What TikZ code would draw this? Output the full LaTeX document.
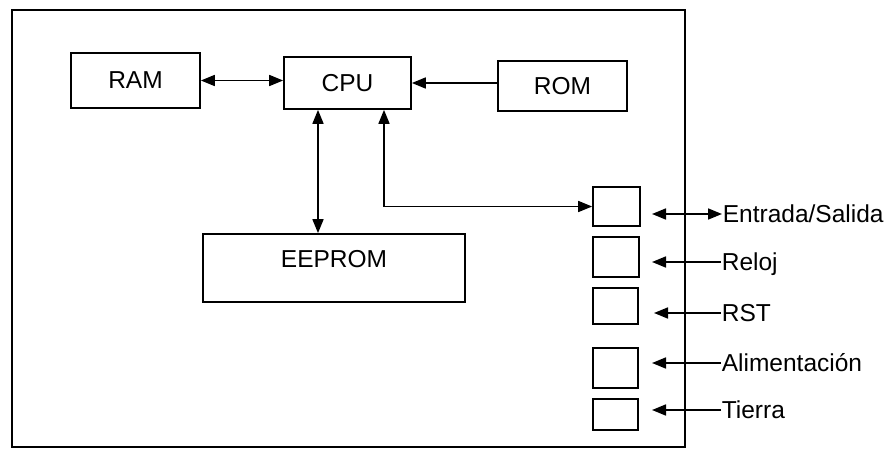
\documentclass[tikz,border=0pt]{standalone}
\usepackage{fontspec}
\setmainfont{Liberation Sans}
\usetikzlibrary{arrows.meta}
\begin{document}
\begin{tikzpicture}[x=1pt,y=-1pt,line width=1.7pt,
  txt/.style={font=\fontsize{24.5}{28}\selectfont},
  box/.style={draw,line width=1.7pt,inner sep=0pt,txt},
  lbl/.style={txt,inner sep=0pt,anchor=base west},
  tip/.tip={Triangle[length=14pt,width=11pt]},
  arr/.style={-tip},
  darr/.style={tip-tip}]
\useasboundingbox (0,0) rectangle (886,455);
% chip outline
\node[box,line width=1.5pt,minimum width=673pt,minimum height=437pt] (chip) at (348.5,228.5) {};
% blocks
\node[box,minimum width=129pt,minimum height=55pt] (ram) at (135.5,80.5) {RAM};
\node[box,minimum width=127pt,minimum height=52pt] (cpu) at (347.5,83) {CPU};
\node[box,minimum width=129pt,minimum height=50pt] (rom) at (562.5,86) {ROM};
\node[box,minimum width=262pt,minimum height=68pt,
      label={[txt,anchor=north,yshift=-13pt]north:EEPROM}] (eeprom) at (334,268) {};
% pins
\node[box,minimum width=47pt,minimum height=39pt] (p1) at (616.5,206.5) {};
\node[box,minimum width=46pt,minimum height=40pt] (p2) at (616,257) {};
\node[box,minimum width=45pt,minimum height=36pt] (p3) at (615.5,306) {};
\node[box,minimum width=45pt,minimum height=40pt] (p4) at (615.5,368) {};
\node[box,minimum width=45pt,minimum height=31pt] (p5) at (615.5,414.5) {};
% external labels
\node[lbl] (io) at (722,222.5) {Entrada/Salida};
\node[lbl] (clk) at (721,270.5) {Reloj};
\node[lbl] (rst) at (721,321.5) {RST};
\node[lbl] (pwr) at (721,371.5) {Alimentación};
\node[lbl] (gnd) at (721,418.5) {Tierra};
% helper coordinates
\coordinate (xe) at (318,0);
\coordinate (xio) at (384,0);
\coordinate (e1) at (652,214);
\coordinate (e2) at (652,262);
\coordinate (e3) at (654,313);
\coordinate (e4) at (652,363);
\coordinate (e5) at (652,410);
% connectors
\draw[darr] (ram.east) -- (ram.east -| cpu.west);
\draw[arr] ([yshift=3pt]rom.west) -- ([yshift=3pt]rom.west -| cpu.east);
\draw[darr] (cpu.south -| xe) -- (eeprom.north -| xe);
\draw[darr] (cpu.south -| xio) |- (p1.west);
\draw[darr] (e1) -- (io.west |- e1);
\draw[arr] (clk.west |- e2) -- (e2);
\draw[arr] (rst.west |- e3) -- (e3);
\draw[arr] (pwr.west |- e4) -- (e4);
\draw[arr] (gnd.west |- e5) -- (e5);
\end{tikzpicture}
\end{document}
